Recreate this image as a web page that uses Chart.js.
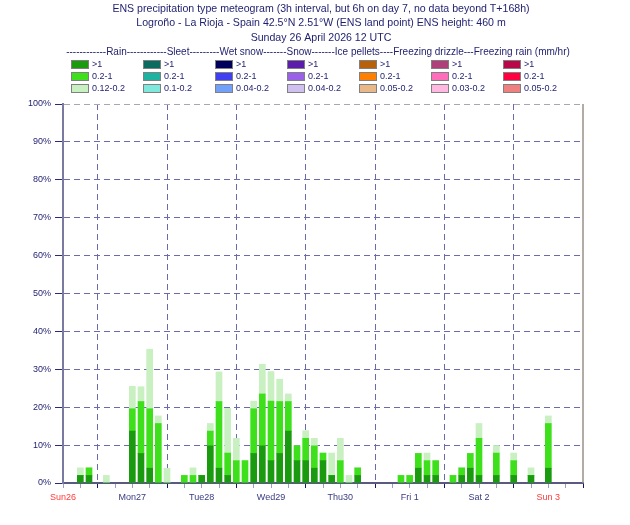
<!DOCTYPE html>
<html>
<head>
<meta charset="utf-8">
<script src="https://cdn.jsdelivr.net/npm/chart.js@4.4.1/dist/chart.umd.min.js"></script>
<style>
    html, body { margin: 0; padding: 0; background: #fff; }
    #grMeteo { display: block; }
</style>
</head>
<body>
<canvas id="grMeteo" width="630" height="525"></canvas>
<script>
/* DATOS (horas desde Sun 26 12 UTC, % de miembros) */
const horas = [6, 9, 15, 24, 27, 30, 33, 36, 42, 45, 48, 51, 54, 57, 60, 63, 66, 69, 72, 75, 78,
    81, 84, 87, 90, 93, 96, 99, 102, 117, 120, 123, 126, 129, 135, 138, 141, 144, 150, 156, 162, 168];

// lluvia > 1 mm/h
const lluviaFuerte = [2.0, 2.0, 0, 13.7, 7.8, 3.9, 0, 0, 0, 0, 2.0, 9.8, 3.9, 2.0, 0, 0, 7.8, 9.8, 5.9, 7.8, 13.7,
    5.9, 5.9, 3.9, 5.9, 2.0, 0, 0, 2.0, 0, 0, 3.9, 2.0, 2.0, 0, 2.0, 3.9, 2.0, 2.0, 2.0, 2.0, 3.9];
// lluvia 0.2-1
const lluviaMedia = [0, 2.0, 0, 5.9, 13.7, 15.7, 15.7, 0, 2.0, 2.0, 0, 3.9, 17.6, 5.9, 5.9, 5.9, 11.8, 13.7, 15.7, 13.7, 7.8,
    3.9, 5.9, 5.9, 2.0, 0, 5.9, 0, 2.0, 2.0, 2.0, 3.9, 3.9, 3.9, 2.0, 2.0, 3.9, 9.8, 5.9, 3.9, 0, 11.8];
// lluvia 0.12-0.2
const lluviaDebil = [2.0, 0, 2.0, 5.9, 3.9, 15.7, 2.0, 3.9, 0, 2.0, 0, 2.0, 7.8, 11.8, 5.9, 0, 2.0, 7.8, 7.8, 5.9, 2.0,
    0, 2.0, 2.0, 0, 5.9, 5.9, 2.0, 0, 0, 0, 0, 2.0, 0, 0, 0, 0, 3.9, 2.0, 2.0, 2.0, 2.0];

const dias = ['Sun26', 'Mon27', 'Tue28', 'Wed29', 'Thu30', 'Fri 1', 'Sat 2', 'Sun 3'];
const yTicks = [0, 10, 20, 30, 40, 50, 60, 70, 80, 90, 100];

const titulos = [
    'ENS precipitation type meteogram (3h interval, but 6h on day 7, no data beyond T+168h)',
    'Logroño - La Rioja - Spain 42.5°N 2.51°W (ENS land point) ENS height: 460 m',
    'Sunday 26 April 2026 12 UTC'
];
const leyendaCabecera = '------------Rain------------Sleet---------Wet snow-------Snow-------Ice pellets----Freezing drizzle---Freezing rain (mm/hr)';
const tipos = ['Rain', 'Sleet', 'Wet snow', 'Snow', 'Ice pellets', 'Freezing drizzle', 'Freezing rain'];
const rangos = [
    ['>1', '0.2-1', '0.12-0.2'],
    ['>1', '0.2-1', '0.1-0.2'],
    ['>1', '0.2-1', '0.04-0.2'],
    ['>1', '0.2-1', '0.04-0.2'],
    ['>1', '0.2-1', '0.05-0.2'],
    ['>1', '0.2-1', '0.03-0.2'],
    ['>1', '0.2-1', '0.05-0.2']
];
const colores = [
    ['#1a9a0e', '#3de01a', '#c8f0c0'],
    ['#0c6b60', '#1cb4a0', '#7ee8dc'],
    ['#00005c', '#4040f0', '#70a0fa'],
    ['#5a1eaa', '#9a60e8', '#d0c0f0'],
    ['#b8600a', '#ff8000', '#e8b888'],
    ['#b0407a', '#ff6ebb', '#ffb8e0'],
    ['#b8084a', '#ff0040', '#f08080']
];

const NAVY = '#1e1e6e';
const GRID = '#6a6aac';
const FONT = "'Liberation Sans', Arial, sans-serif";

function serie(valores){
    return horas.map((h, i) => ({ x: h, y: valores[i] }));
}

/* Titulo, leyenda y marco derecho */
const cabeceraPlugin = {
    id: 'cabeceraPlugin',
    afterDraw(chart) {
        const { ctx, chartArea } = chart;
        ctx.save();
        ctx.fillStyle = NAVY;
        ctx.textAlign = 'center';
        ctx.textBaseline = 'middle';
        ctx.font = '10.6px ' + FONT;
        const ys = [9.5, 23.5, 38.5];
        titulos.forEach((t, i) => ctx.fillText(t, 321, ys[i]));

        ctx.font = '10px ' + FONT;
        ctx.fillText(leyendaCabecera, 318, 52);

        ctx.textAlign = 'left';
        ctx.font = '9px ' + FONT;
        tipos.forEach((tipo, c) => {
            const x0 = 71 + 72 * c;
            for (let r = 0; r < 3; r++) {
                const y0 = 60 + 12 * r;
                ctx.fillStyle = colores[c][r];
                ctx.fillRect(x0, y0, 18, 9);
                ctx.strokeStyle = '#808080';
                ctx.lineWidth = 1;
                ctx.strokeRect(x0 + 0.5, y0 + 0.5, 17, 8);
                ctx.fillStyle = NAVY;
                ctx.fillText(rangos[c][r], x0 + 21, y0 + 5);
            }
        });

        // marco derecho
        ctx.strokeStyle = '#9a9088';
        ctx.lineWidth = 1.5;
        ctx.beginPath();
        ctx.moveTo(chartArea.right, chartArea.top);
        ctx.lineTo(chartArea.right, chartArea.bottom);
        ctx.stroke();
        ctx.restore();
    }
};

const ctx = document.getElementById('grMeteo').getContext('2d');

new Chart(ctx, {
    type: 'bar',
    data: {
        datasets: [
            { label: 'Rain >1', data: serie(lluviaFuerte), backgroundColor: colores[0][0] },
            { label: 'Rain 0.2-1', data: serie(lluviaMedia), backgroundColor: colores[0][1] },
            { label: 'Rain 0.12-0.2', data: serie(lluviaDebil), backgroundColor: colores[0][2] }
        ]
    },
    options: {
        responsive: false,
        animation: false,
        devicePixelRatio: 1,
        barThickness: 6,
        layout: { padding: { top: 104, right: 47, bottom: 0, left: 0 } },
        plugins: {
            legend: { display: false },
            title: { display: false },
            tooltip: { enabled: false }
        },
        scales: {
            x: {
                type: 'linear',
                min: 0,
                max: 180,
                offset: false,
                stacked: true,
                afterFit: (scale) => { scale.height = 42; },
                afterBuildTicks: (scale) => {
                    const t = [];
                    for (let v = 0; v <= 180; v += 6) t.push({ value: v });
                    scale.ticks = t;
                },
                ticks: {
                    autoSkip: false,
                    maxRotation: 0,
                    padding: 4,
                    font: { family: FONT, size: 9 },
                    color: (c) => (c.tick && (c.tick.value === 0 || c.tick.value === 168)) ? '#ff3a3a' : '#3a3a80',
                    callback: (v) => (v % 24 === 0 ? dias[v / 24] : '')
                },
                grid: {
                    offset: false,
                    drawTicks: true,
                    tickLength: 5,
                    lineWidth: 1,
                    color: (c) => (c.tick && c.tick.value % 24 === 12 && c.tick.value < 180) ? GRID : 'rgba(0,0,0,0)',
                    tickColor: (c) => (c.tick && c.tick.value % 24 === 12) ? '#14146a' : '#9c9cc8'
                },
                border: { color: '#5a5a80', width: 2, dash: [6, 4] }
            },
            y: {
                min: 0,
                max: 100,
                stacked: true,
                afterFit: (scale) => { scale.width = 63; },
                afterBuildTicks: (scale) => { scale.ticks = yTicks.map(v => ({ value: v })); },
                ticks: {
                    padding: 4,
                    font: { family: FONT, size: 9 },
                    color: NAVY,
                    callback: (v) => v + '%'
                },
                grid: {
                    drawTicks: true,
                    tickLength: 8,
                    lineWidth: 1,
                    color: (c) => (c.tick && c.tick.value === 100) ? '#aaa4b4' : GRID,
                    tickColor: '#2a2a78'
                },
                border: { color: '#7a7aa0', width: 2, dash: [6, 4] }
            }
        }
    },
    plugins: [cabeceraPlugin]
});
</script>
</body>
</html>
